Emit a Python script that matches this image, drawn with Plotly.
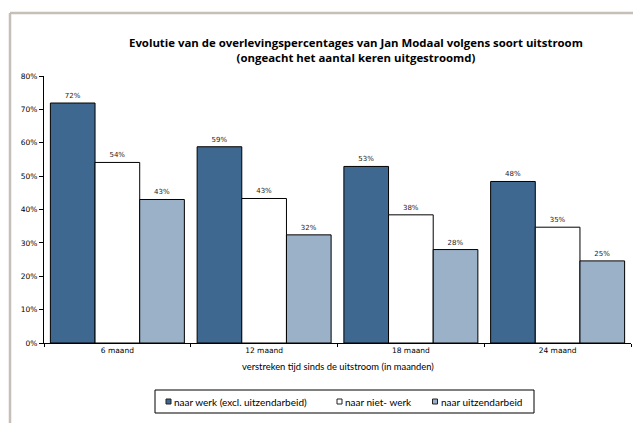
import plotly.graph_objects as go

categories = ["6 maand", "12 maand", "18 maand", "24 maand"]
series_names = ["naar werk (excl. uitzendarbeid)", "naar niet- werk", "naar uitzendarbeid"]
werk = [0.719, 0.588, 0.529, 0.484]
niet_werk = [0.541, 0.433, 0.384, 0.347]
uitzend = [0.430, 0.324, 0.280, 0.246]
labels_werk = ["72%", "59%", "53%", "48%"]
labels_niet = ["54%", "43%", "38%", "35%"]
labels_uitzend = ["43%", "32%", "28%", "25%"]
y_ticks = [0, 0.1, 0.2, 0.3, 0.4, 0.5, 0.6, 0.7, 0.8]
y_ticklabels = ["0%", "10%", "20%", "30%", "40%", "50%", "60%", "70%", "80%"]

colors = ["#3f6891", "#ffffff", "#9bb1c8"]
series = [werk, niet_werk, uitzend]
labels = [labels_werk, labels_niet, labels_uitzend]

# page body offset (browser default margin)
OFF = 8
W, H = 641, 423
# plot area in reference (screen) pixels
PX0, PX1, PY0, PY1 = 44, 631, 76, 343
L = PX0 - OFF
T = PY0 - OFF
R = W - (PX1 - OFF)
B = H - (PY1 - OFF)
PW, PH = PX1 - PX0, PY1 - PY0


def px(x):
    return (x - PX0) / PW


def py(y):
    return (PY1 - y) / PH


fig = go.Figure()
for name, vals, txt, col in zip(series_names, series, labels, colors):
    fig.add_trace(go.Bar(
        x=categories, y=vals, name=name, text=txt,
        textposition="outside", cliponaxis=False,
        textfont=dict(family="DejaVu Sans", size=7, color="#222"),
        marker=dict(color=col, line=dict(color="#000000", width=1)),
    ))

fig.update_layout(
    width=W, height=H,
    margin=dict(l=L, r=R, t=T, b=B, autoexpand=False),
    paper_bgcolor="white", plot_bgcolor="white",
    barmode="group", bargap=0.087, bargroupgap=0,
    showlegend=False,
    font=dict(family="DejaVu Sans", size=7, color="#000"),
)

fig.update_xaxes(
    showline=True, linecolor="#000", linewidth=1, automargin=False,
    ticks="outside", ticklen=3, tickcolor="#000", tickson="boundaries",
    tickfont=dict(family="DejaVu Sans", size=7.5, color="#000"),
)
fig.update_yaxes(
    range=[0, 0.8], tickvals=y_ticks, ticktext=y_ticklabels, automargin=False,
    showline=True, linecolor="#000", linewidth=1,
    ticks="outside", ticklen=4, tickcolor="#000",
    showgrid=False, zeroline=False,
    tickfont=dict(family="DejaVu Sans", size=7.5, color="#000"),
)

# title
fig.add_annotation(xref="paper", yref="paper", x=px(356), y=py(49.5), xanchor="center", yanchor="middle",
                   text="<b>Evolutie van de overlevingspercentages van Jan Modaal volgens soort uitstroom"
                        "<br>(ongeacht het aantal keren uitgestroomd)</b>",
                   showarrow=False, font=dict(family="Open Sans", size=11.4, color="#000"))
# x axis title
fig.add_annotation(xref="paper", yref="paper", x=px(338), y=py(366.5), xanchor="center", yanchor="middle",
                   text="verstreken tijd sinds de uitstroom (in maanden)",
                   showarrow=False, font=dict(family="Lato", size=9.4, color="#000"))

# legend (manual)
fig.add_shape(type="rect", xref="paper", yref="paper", x0=px(155), x1=px(534), y0=py(390), y1=py(413),
              line=dict(color="#000", width=1), fillcolor="white")
leg_sq_x = [168.5, 339.5, 435]
leg_txt_x = [172, 343, 438.5]
for name, col, sx, tx in zip(series_names, colors, leg_sq_x, leg_txt_x):
    fig.add_shape(type="rect", xref="paper", yref="paper", x0=px(sx - 2.5), x1=px(sx + 2.5),
                  y0=py(399), y1=py(404), line=dict(color="#222", width=1), fillcolor=col)
    fig.add_annotation(xref="paper", yref="paper", x=px(tx), y=py(401.5), xanchor="left", yanchor="middle",
                       text=name, showarrow=False, font=dict(family="Lato", size=10, color="#000"))

border_col = "#c5bfb7"
fig.add_shape(type="line", xref="paper", yref="paper", x0=px(10), x1=px(655), y0=py(13), y1=py(13),
              line=dict(color=border_col, width=2.5))
fig.add_shape(type="line", xref="paper", yref="paper", x0=px(10), x1=px(10), y0=py(13), y1=py(440),
              line=dict(color=border_col, width=2.5))

fig.write_html("out.html")
